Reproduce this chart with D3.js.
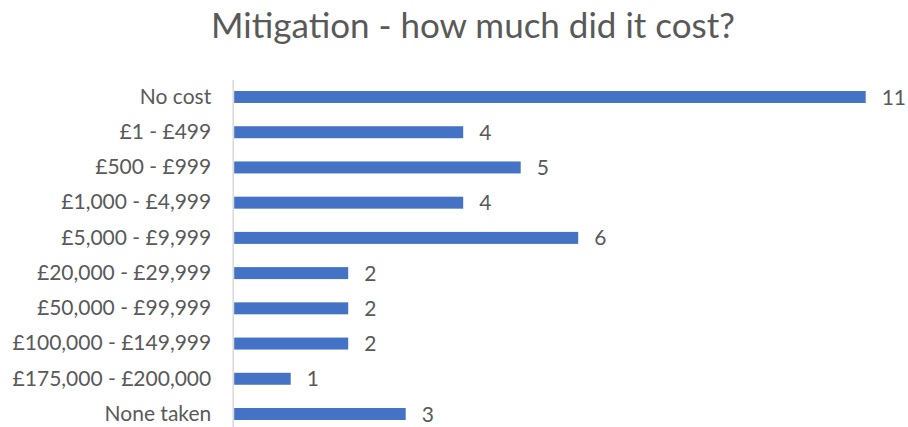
<!DOCTYPE html>
<html>
<head>
<meta charset="utf-8">
<script src="https://cdn.jsdelivr.net/npm/d3@7"></script>
<style>
  html, body { margin: 0; padding: 0; background: #fff; }
  svg { display: block; font-family: Lato, "Open Sans", sans-serif; }
</style>
</head>
<body>
<svg id="chart" width="908" height="427"></svg>
<script>
// Cost bands reported for mitigation work, and how many responses fell in each
const categories = [
  "No cost", "£1 - £499", "£500 - £999", "£1,000 - £4,999", "£5,000 - £9,999",
  "£20,000 - £29,999", "£50,000 - £99,999", "£100,000 - £149,999",
  "£175,000 - £200,000", "None taken"
];
const counts = [11, 4, 5, 4, 6, 2, 2, 2, 1, 3];
const title = "Mitigation - how much did it cost?";

const svg = d3.select("#chart");
const textColor = "#595959";

const x = d3.scaleLinear().domain([0, 11]).range([233.2, 865.7]);
const y = d3.scaleBand().domain(categories).range([79.4, 431.6]).paddingInner(0.66).paddingOuter(0.33);

svg.append("text")
  .attr("x", 473).attr("y", 38)
  .attr("text-anchor", "middle")
  .attr("fill", textColor)
  .style("font-size", "35px")
  .text(title);

// category axis on the left
const axis = svg.append("g")
  .attr("transform", `translate(${x(0)},0)`)
  .call(d3.axisLeft(y).tickSize(0).tickPadding(22));
axis.select(".domain").attr("stroke", "#d9d9d9").attr("stroke-width", 1.5)
  .attr("d", `M0,80V427`);
axis.selectAll("text")
  .attr("fill", textColor)
  .style("font-size", "21px")
  .style("font-family", "Lato, 'Open Sans', sans-serif");

const rows = svg.append("g").selectAll("g").data(categories).join("g");

rows.append("rect")
  .attr("x", x(0) + 1)
  .attr("y", d => y(d))
  .attr("width", (d, i) => x(counts[i]) - x(0) - 1)
  .attr("height", y.bandwidth())
  .attr("fill", "#4472C4");

rows.append("text")
  .attr("x", (d, i) => x(counts[i]) + 16)
  .attr("y", d => y(d) + y.bandwidth() / 2)
  .attr("dy", "0.36em")
  .attr("fill", textColor)
  .style("font-size", "21px")
  .text((d, i) => counts[i]);
</script>
</body>
</html>
